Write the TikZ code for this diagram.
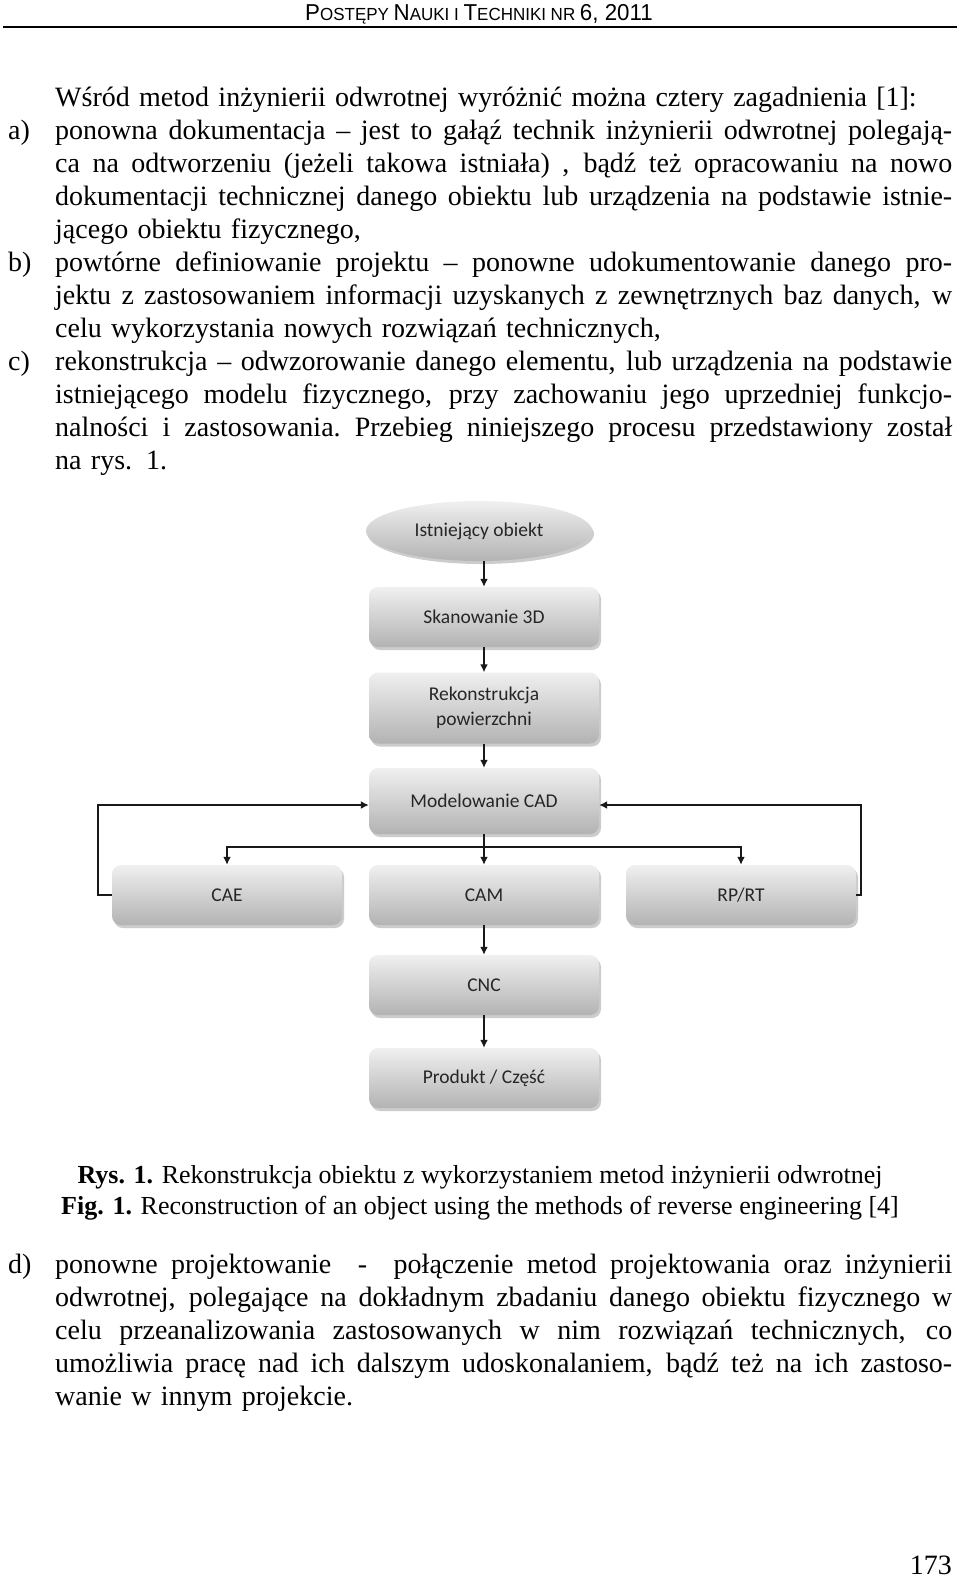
\documentclass[tikz,border=0pt]{standalone}
\usepackage{fontspec,graphicx}
\setmainfont{Liberation Serif}
\newfontfamily\diagfont{Carlito}
\newfontfamily\headfont{Liberation Sans}
\usetikzlibrary{shapes.geometric,shadows,arrows.meta}
\setlength{\parindent}{0pt}

% one justified line of a paragraph
\newcommand{\fl}[1]{\leavevmode\hbox to 897pt{\spaceskip=6pt plus 1fil\xspaceskip=6pt plus 1fil\relax #1}}
% header in fake small caps
\newcommand{\hsc}[2]{{\fontsize{23}{23}\selectfont #1}{\fontsize{17.5}{17.5}\selectfont #2}}

\begin{document}
\begin{tikzpicture}[x=1pt,y=-1pt,
	para/.style={anchor=north west,inner sep=0pt,text width=897pt,align=left,font=\fontsize{28}{33}\selectfont},
	lab/.style={anchor=base west,inner sep=0pt,font=\fontsize{28}{33}\selectfont},
	stepbox/.style={draw=none,rounded corners=9pt,minimum width=230pt,minimum height=60pt,inner sep=0pt,
		align=center,text=black!85,font=\diagfont\fontsize{19.5}{25}\selectfont,
		top color=black!6,bottom color=black!30,
		drop shadow={opacity=0.4,shadow xshift=2pt,shadow yshift=-3pt}},
	startbox/.style={stepbox,ellipse,minimum width=226pt,minimum height=60pt},
	flow/.style={line width=2.2pt,draw=black!90,-{Latex[length=8pt,width=8pt]}}]

	\fill [white] (0,0) rectangle (960,1580);
	\useasboundingbox (0,0) rectangle (960,1580);

	% header
	\node [anchor=base,inner sep=0pt,font=\headfont\fontsize{17.5}{17.5}\selectfont] (head) at (479,20) {\scalebox{0.97}[1]{\hsc{P}{OSTĘPY} \hsc{N}{AUKI} \hsc{}{I} \hsc{T}{ECHNIKI} \hsc{}{NR} \hsc{6, 2011}{}}};
	\draw [line width=1.5pt] (3,27) -- (957,27);

	% text above the figure
	\node [para] (intro) at (55,82.9) {\strut Wśród metod inżynierii odwrotnej wyróżnić można cztery zagadnienia [1]:};

	\node [lab] (la) at (8,139) {a)};
	\node [para] (pa) at (55,115.9) {\strut\fl{ponowna dokumentacja – jest to gałąź technik inżynierii odwrotnej polegają-}\\
		\fl{ca na odtworzeniu (jeżeli takowa istniała) , bądź też opracowaniu na nowo}\\
		\fl{dokumentacji technicznej danego obiektu lub urządzenia na podstawie istnie-}\\
		jącego obiektu fizycznego,};

	\node [lab] (lb) at (8,271) {b)};
	\node [para] (pb) at (55,247.9) {\strut\fl{powtórne definiowanie projektu – ponowne udokumentowanie danego pro-}\\
		\fl{jektu z zastosowaniem informacji uzyskanych z zewnętrznych baz danych, w}\\
		celu wykorzystania nowych rozwiązań technicznych,};

	\node [lab] (lc) at (8,370) {c)};
	\node [para] (pc) at (55,346.9) {\strut\fl{rekonstrukcja – odwzorowanie danego elementu, lub urządzenia na podstawie}\\
		\fl{istniejącego modelu fizycznego, przy zachowaniu jego uprzedniej funkcjo-}\\
		\fl{nalności i zastosowania. Przebieg niniejszego procesu przedstawiony został}\\
		na rys. 1.};

	% figure
	\node [startbox] (obiekt) at (479,531) {Istniejący obiekt};
	\node [stepbox] (skan) at (484,617) {Skanowanie 3D};
	\node [stepbox,minimum height=71pt] (rekon) at (484,708) {Rekonstrukcja\\powierzchni};
	\node [stepbox,minimum height=66pt] (cad) at (484,801) {Modelowanie CAD};
	\node [stepbox] (cae) at (227,895) {CAE};
	\node [stepbox] (cam) at (484,895) {CAM};
	\node [stepbox] (rprt) at (741,895) {RP/RT};
	\node [stepbox] (cnc) at (484,985) {CNC};
	\node [stepbox] (produkt) at (484,1078) {Produkt / Część};

	\draw [flow] (obiekt.south -| skan) -- (skan);
	\draw [flow] (skan) -- (rekon);
	\draw [flow] (rekon) -- (cad);
	\draw [line width=2.2pt,draw=black!90] (cad.south) -- ++(0,13) coordinate (split);
	\draw [flow] (split) -| (cae.north);
	\draw [flow] (split) -| (rprt.north);
	\draw [flow] (split) -- (cam.north);
	\draw [flow] (cam) -- (cnc);
	\draw [flow] (cnc) -- (produkt);
	\draw [flow] (cae.west) -- ++(-14,0) |- ([yshift=-4pt]cad.west);
	\draw [flow] (rprt.east) -- ++(5,0) |- ([yshift=-4pt]cad.east);

	% caption
	\node [anchor=base,inner sep=0pt,align=center,font=\fontsize{26}{31}\selectfont] (cap) at (480,1214) {\textbf{Rys. 1.} Rekonstrukcja obiektu z wykorzystaniem metod inżynierii odwrotnej\\
		\textbf{Fig. 1.} Reconstruction of an object using the methods of reverse engineering [4]};

	\node [lab] (ld) at (8,1273) {d)};
	\node [para] (pd) at (55,1249.9) {\strut\fl{ponowne projektowanie \ - \ połączenie metod projektowania oraz inżynierii}\\
		\fl{odwrotnej, polegające na dokładnym zbadaniu danego obiektu fizycznego w}\\
		\fl{celu przeanalizowania zastosowanych w nim rozwiązań technicznych, co}\\
		\fl{umożliwia pracę nad ich dalszym udoskonalaniem, bądź też na ich zastoso-}\\
		wanie w innym projekcie.};

	\node [anchor=base east,inner sep=0pt,font=\fontsize{28}{28}\selectfont] (page) at (952,1574) {173};
\end{tikzpicture}
\end{document}
